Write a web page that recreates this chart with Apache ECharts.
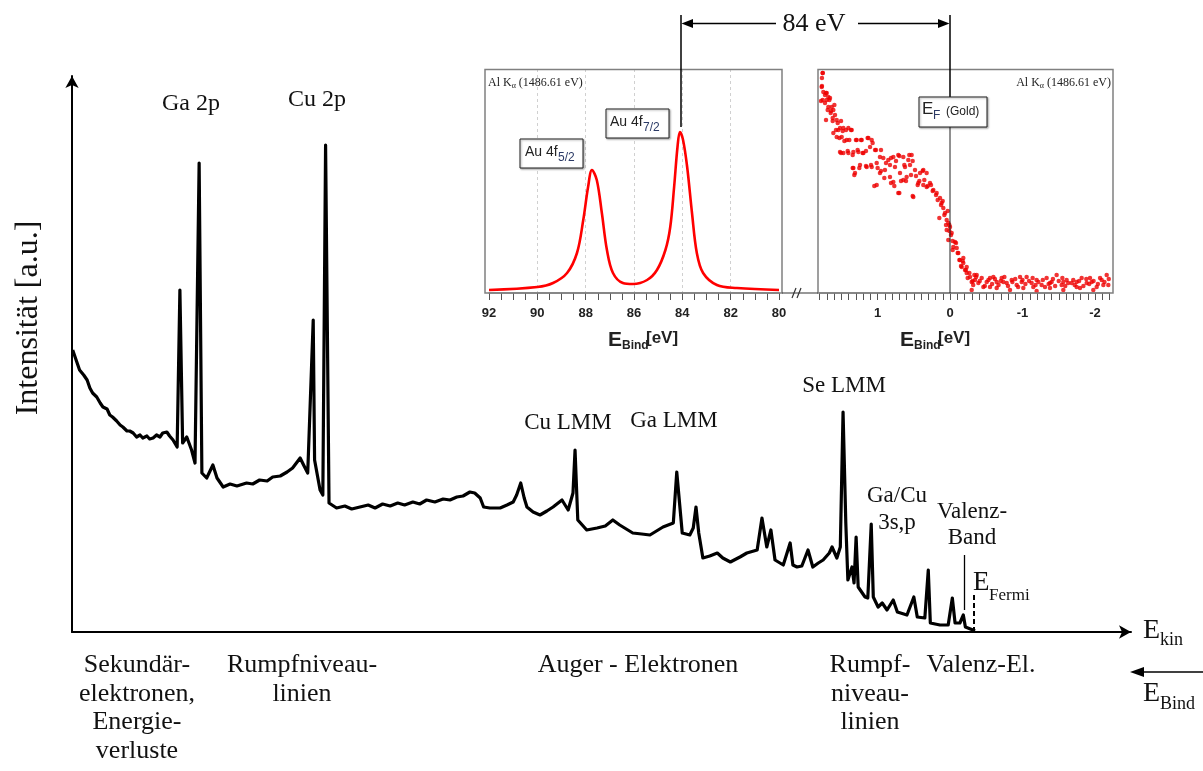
<!DOCTYPE html>
<html><head><meta charset="utf-8">
<script src="https://cdn.jsdelivr.net/npm/echarts@6/dist/echarts.min.js"></script>
<style>html,body{margin:0;padding:0;background:#fff}#c{width:1203px;height:771px}</style>
</head><body><div id="c"></div>
<script>
// ---- Survey spectrum (kinetic energy in eV, intensity in a.u.) ----
const surveyEkin = [187,192,197,203,208,212,216,222,227,231,237,241,245,251,256,260,266,270,275,280,285,289,295,299,304,309,314,318,324,328,333,339,343,347,353,360,365,371,375,382,391,397,406,416,426,440,449,459,470,478,489,499,507,518,523,529,537,539,547,551,555,560,571,583,593,605,617,627,638,649,660,670,682,692,702,714,726,736,746,755,765,772,780,785,794,809,819,828,833,839,844,848,857,867,877,886,899,908,915,918,922,935,950,962,973,983,1002,1015,1027,1046,1061,1066,1074,1085,1090,1094,1098,1104,1114,1125,1133,1144,1158,1168,1183,1190,1197,1203,1209,1221,1231,1235,1241,1248,1257,1264,1272,1279,1288,1292,1299,1304,1308,1312,1315,1321,1324,1327,1330,1340,1344,1349,1352,1359,1365,1372,1381,1387,1401,1411,1416,1427,1432,1435,1449,1461,1467,1471,1478,1483,1486,1497,1500];
const surveyIntensity = [282,272,262,257,252,244,239,235,229,225,223,217,215,211,207,205,201,201,199,195,197,194,196,193,194,197,195,199,200,196,192,185,342,189,195,182,169,469,159,154,167,154,145,148,146,149,148,152,151,155,156,160,164,174,167,159,312,172,142,137,487,129,124,126,123,125,127,124,128,126,129,127,130,128,132,130,133,132,135,136,140,139,134,125,124,124,127,130,137,149,134,125,120,117,121,125,132,122,139,182,112,102,104,106,112,107,99,98,97,105,109,160,99,97,104,125,99,74,76,79,74,70,75,79,82,114,85,102,72,67,89,67,65,66,82,65,69,72,79,85,74,85,220,109,52,65,49,95,45,35,34,108,35,25,29,22,32,20,17,35,15,14,62,9,7,7,34,9,9,17,5,2,1];
const fermiEdgeEkin = 1498;
const valenceBandEkin = 1484;

// ---- Inset 1: Au 4f (binding energy eV, a.u.) ----
const au4fBinding = [92.0,90.0,89.35,88.77,88.36,88.1,87.9,87.74,87.54,87.33,87.12,86.87,86.46,86.04,85.46,85.05,84.7,84.5,84.34,84.2,84.1,83.97,83.8,83.6,83.4,83.14,82.57,81.74,80.0];
const au4fIntensity = [3,6,10,20,40,73,106,123,113,80,43,20,10,9,13,23,43,66,106,146,161,153,126,80,40,20,8,5,3];
const au4fTickLabels = [92,90,88,86,84,82,80];

// ---- Inset 2: Fermi edge of gold (binding energy eV, a.u.) ----
const fermiBinding = [1.756,1.766,1.770,1.747,1.724,1.701,1.756,1.701,1.678,1.655,1.724,1.678,1.632,1.609,1.646,1.586,1.618,1.563,1.517,1.540,1.471,1.402,1.609,1.563,1.494,1.425,1.356,1.287,1.218,1.126,1.080,1.517,1.471,1.402,1.333,1.264,1.195,1.103,1.034,0.966,1.333,1.310,1.241,1.149,1.080,1.011,0.920,0.851,0.782,0.713,0.644,0.575,0.529,0.966,0.897,0.828,0.759,0.690,0.621,0.552,0.483,0.414,0.368,0.322,1.011,0.828,0.782,0.713,0.644,0.598,0.506,0.437,0.368,0.322,0.276,0.230,0.184,0.138,0.115,0.092,0.069,0.046,0.023,0,0.046,-0.023,0.023,-0.046,-0.069,-0.115,-0.138,-0.184,-0.161,-0.207,-0.230,-0.276,-0.299,-0.345,-0.391,-0.437,-0.506,-0.552,-0.598,-0.644,-0.713,-0.782,-0.851,-0.920,-0.989,-1.057,-1.126,-1.195,-1.264,-1.333,-1.402,-1.471,-1.540,-1.609,-1.678,-1.747,-1.816,-1.885,-1.954,-2.023,-2.092,-2.161,-2.207,-0.299,-0.460,-0.644,-0.828,-1.011,-1.195,-1.379,-1.563,-1.793,-1.977,-2.184,-0.092,-0.184,-0.230,-0.368,-0.552,-0.736,-0.966,-1.149,-1.379,-1.563,-1.747,-1.931,-2.115,
  1.756,1.766,1.779,1.710,1.664,1.595,1.687,1.641,1.710,1.618,1.549,1.503,1.572,1.480,1.434,1.366,1.526,1.457,1.389,1.297,1.228,1.136,1.067,1.503,1.411,1.342,1.274,1.205,1.159,1.021,0.952,1.342,1.320,1.251,1.159,1.090,0.998,0.952,0.883,0.814,0.745,0.699,0.630,0.561,0.515,1.044,0.906,0.814,0.768,0.699,0.676,0.607,0.538,0.469,0.423,0.377,0.446,0.515,0.354,0.308,0.262,0.239,0.193,0.170,0.124,0.101,0.147,0.078,0.032,0.009,0.055,0.009,-0.014,-0.037,-0.083,-0.037,-0.106,-0.129,-0.175,-0.152,-0.221,-0.267,-0.244,-0.313,-0.336,
  -0.32,-0.36,-0.41,-0.48,-0.53,-0.58,-0.62,-0.67,-0.70,-0.75,-0.80,-0.86,-0.90,-0.94,-1.00,-1.04,-1.09,-1.14,-1.18,-1.22,-1.28,-1.31,-1.36,-1.42,-1.45,-1.50,-1.55,-1.59,-1.63,-1.70,-1.72,-1.78,-1.84,-1.88,-1.92,-1.98,-2.04,-2.07,-2.13,-2.19,-2.21];
const fermiIntensity = [220,215,206,201,198,200,193,193,196,195,190,186,186,183,180,178,175,173,165,163,165,165,160,156,156,153,163,153,153,155,153,141,140,140,141,141,140,146,143,136,125,120,128,126,126,130,135,133,136,138,136,133,138,120,123,128,126,120,126,128,123,120,123,120,108,116,111,100,113,116,96,110,108,106,110,103,100,95,90,85,80,73,70,66,63,60,53,46,51,40,33,30,26,23,20,16,11,13,10,15,11,6,16,11,15,10,13,8,11,16,10,13,8,15,11,18,8,13,10,11,15,10,11,6,13,18,11,3,6,5,3,5,2,5,3,5,3,8,45,35,26,18,15,11,16,6,10,11,6,15,8,
  220,207,192,200,193,188,183,182,173,172,170,172,163,162,163,163,155,152,153,153,153,155,150,140,142,138,143,140,142,143,143,125,118,125,127,128,125,122,130,135,132,137,128,138,132,107,115,110,107,100,112,112,118,117,112,122,108,97,113,107,108,102,98,93,88,92,75,78,82,68,68,62,58,52,50,43,40,33,32,27,23,20,15,12,18,
  8,16,12,7,13,9,14,8,12,16,7,11,14,6,13,9,12,15,8,11,13,6,9,14,7,12,15,7,10,13,8,12,7,14,9,12,9,15,11,14,17];
const fermiTickLabels = [1,0,-1,-2];

// ---- Text ----
const peakLabels = ['Ga 2p','Cu 2p','Cu LMM','Ga LMM','Se LMM','Ga/Cu\n3s,p','Valenz-\nBand'];
const regionLabels = ['Sekundär-\nelektronen,\nEnergie-\nverluste','Rumpfniveau-\nlinien','Auger - Elektronen','Rumpf-\nniveau-\nlinien','Valenz-El.'];

const SERIF = '"Liberation Serif","Times New Roman",serif';
const SANS = '"Liberation Sans",Arial,sans-serif';

function zip(a,b){return a.map((v,i)=>[v,b[i]]);}

function txt(text,x,y,size,opts){
  opts=opts||{};
  return {type:'text',z:20,rotation:opts.rotation||0,x:opts.rotation?x:0,y:opts.rotation?y:0,
    style:{text:text,x:opts.rotation?0:x,y:opts.rotation?0:y,
      font:(opts.weight||'normal')+' '+size+'px '+(opts.family||SERIF),
      fill:opts.color||'#111',
      align:opts.align||'center',textAlign:opts.align||'center',
      verticalAlign:opts.va||'middle',textVerticalAlign:opts.va||'middle',
      lineHeight:opts.lh||size}};
}
function line(x1,y1,x2,y2,w,color,dash){
  return {type:'line',z:15,shape:{x1,y1,x2,y2},style:{stroke:color||'#000',lineWidth:w||1.5,lineDash:dash||null}};
}
function tri(points){return {type:'polygon',z:16,shape:{points},style:{fill:'#000'}};}
function box(x,y,w,h){
  return {type:'rect',z:18,shape:{x,y,width:w,height:h},style:{fill:'#fff',stroke:'#222',lineWidth:1,shadowBlur:2,shadowOffsetX:1,shadowOffsetY:1,shadowColor:'rgba(0,0,0,0.35)'}};
}

const chart = echarts.init(document.getElementById('c'));
const graphics = [
  {type:'rect',z:5,shape:{x:485,y:69.5,width:297,height:223.5},style:{fill:'none',stroke:'#808080',lineWidth:1.5}},
  {type:'rect',z:5,shape:{x:818,y:69.5,width:295,height:223.5},style:{fill:'none',stroke:'#808080',lineWidth:1.5}},
  line(782,293,818,293,1.2,'#333'),
  line(792,298,796,288,1.2,'#333'),
  line(797,298,801,288,1.2,'#333'),
  line(681,15,681,127,1.5),
  line(950,15,950,97,1.5),
  line(950,127,950,293,1,'#222'),
  line(690,23.5,776,23.5,1.5), tri([[681.5,23.5],[693,19],[693,28]]),
  line(858,23.5,940,23.5,1.5), tri([[949.5,23.5],[938,19],[938,28]]),
  txt('84 eV',814,24,26),
  {type:'text',z:20,style:{text:'{a|Al K}{s|α}{a| (1486.61 eV)}',x:488,y:83,align:'left',textAlign:'left',verticalAlign:'middle',textVerticalAlign:'middle',
    rich:{a:{font:'12px '+SERIF,fill:'#222'},s:{font:'8px '+SERIF,fill:'#222',padding:[5,0,0,0]}}}},
  {type:'text',z:20,style:{text:'{a|Al K}{s|α}{a| (1486.61 eV)}',x:1111,y:83,align:'right',textAlign:'right',verticalAlign:'middle',textVerticalAlign:'middle',
    rich:{a:{font:'12px '+SERIF,fill:'#222'},s:{font:'8px '+SERIF,fill:'#222',padding:[5,0,0,0]}}}},
  box(520,139,63,29), txt('Au 4f',525,152,14,{family:SANS,align:'left',color:'#222'}), txt('5/2',558,158,12,{family:SANS,align:'left',color:'#2b3a66'}),
  box(606,109,63,29), txt('Au 4f',610,122,14,{family:SANS,align:'left',color:'#222'}), txt('7/2',643,128,12,{family:SANS,align:'left',color:'#2b3a66'}),
  box(919,97,68,30), txt('E',922,109,17,{family:SANS,align:'left',color:'#222'}), txt('F',933,116,12,{family:SANS,align:'left',color:'#2b3a66'}), txt('(Gold)',946,112,12,{family:SANS,align:'left',color:'#222'}),
  txt('E',608,340,21,{family:SANS,align:'left',weight:'bold',color:'#222'}), txt('Bind',622,346,12,{family:SANS,align:'left',weight:'bold',color:'#222'}), txt('[eV]',646,338,17,{family:SANS,align:'left',weight:'bold',color:'#222'}),
  txt('E',900,340,21,{family:SANS,align:'left',weight:'bold',color:'#222'}), txt('Bind',914,346,12,{family:SANS,align:'left',weight:'bold',color:'#222'}), txt('[eV]',938,338,17,{family:SANS,align:'left',weight:'bold',color:'#222'}),
  txt(peakLabels[0],191,104,24), txt(peakLabels[1],317,100,24),
  txt(peakLabels[2],568,423,23), txt(peakLabels[3],674,421,23),
  txt(peakLabels[4],844,386,23),
  txt(peakLabels[5],897,509,23,{lh:27}),
  txt(peakLabels[6],972,525,23,{lh:26}),
  txt('E',973,583,27,{align:'left'}), txt('Fermi',989,596,17,{align:'left'}),
  txt('E',1143,631,28,{align:'left'}), txt('kin',1160,640,18,{align:'left'}),
  line(1140,672,1203,672,1.5), tri([[1130,672],[1144,667],[1144,677]]),
  txt('E',1143,694,28,{align:'left'}), txt('Bind',1160,704,18,{align:'left'}),
  txt(regionLabels[0],137,651,26,{va:'top',lh:28.5}),
  txt(regionLabels[1],302,651,26,{va:'top',lh:28.5}),
  txt(regionLabels[2],638,651,26,{va:'top',lh:28.5}),
  txt(regionLabels[3],870,651,26,{va:'top',lh:28.5}),
  txt(regionLabels[4],981,651,26,{va:'top',lh:28.5}),
  txt('Intensität [a.u.]',29,318,32,{rotation:Math.PI/2})
];

const option = {
  backgroundColor:'#fff',
  animation:false,
  grid:[
    {left:72,top:76,width:1059,height:556,containLabel:false,outerBoundsMode:'none'},
    {left:489,top:69,width:290,height:224,containLabel:false,outerBoundsMode:'none'},
    {left:819.5,top:69,width:290,height:224,containLabel:false,outerBoundsMode:'none'}
  ],
  xAxis:[
    {gridIndex:0,type:'value',min:186,max:1727,
      axisLine:{show:true,symbol:['none','arrow'],symbolSize:[10,12],lineStyle:{color:'#000',width:2}},
      axisTick:{show:false},axisLabel:{show:false},splitLine:{show:false}},
    {gridIndex:1,type:'value',min:80,max:92,interval:2,inverse:true,
      axisLine:{show:true,onZero:false,lineStyle:{color:'#808080',width:1.5}},
      axisTick:{show:true,length:7,lineStyle:{color:'#555'}},
      minorTick:{show:true,splitNumber:4,length:7,lineStyle:{color:'#555'}},
      axisLabel:{show:true,margin:14,fontFamily:SANS,fontWeight:'bold',fontSize:13,color:'#222',
        formatter:v=>au4fTickLabels.includes(Math.round(v))?String(Math.round(v)):''},
      splitLine:{show:true,showMinLine:false,showMaxLine:false,lineStyle:{color:'#d0d0d0',type:[3,3],width:1}}},
    {gridIndex:2,type:'value',min:-2.2,max:1.8,interval:0.1,inverse:true,
      axisLine:{show:true,onZero:false,lineStyle:{color:'#808080',width:1.5}},
      axisTick:{show:true,length:7,interval:0,lineStyle:{color:'#555'}},
      axisLabel:{show:true,interval:0,margin:14,fontFamily:SANS,fontWeight:'bold',fontSize:13,color:'#222',
        formatter:v=>{const r=Math.round(v);return (Math.abs(v-r)<1e-6&&fermiTickLabels.includes(r))?String(r):'';}},
      splitLine:{show:false}}
  ],
  yAxis:[
    {gridIndex:0,type:'value',min:0,max:556,
      axisLine:{show:true,symbol:['none','arrow'],symbolSize:[10,12],lineStyle:{color:'#000',width:2}},
      axisTick:{show:false},axisLabel:{show:false},splitLine:{show:false}},
    {gridIndex:1,type:'value',min:0,max:224,show:false},
    {gridIndex:2,type:'value',min:0,max:224,show:false}
  ],
  series:[
    {type:'line',xAxisIndex:0,yAxisIndex:0,data:zip(surveyEkin,surveyIntensity),showSymbol:false,
      lineStyle:{color:'#000',width:3.2,join:'round'},z:3,
      markLine:{silent:true,symbol:['none','none'],label:{show:false},
        data:[
          [{coord:[valenceBandEkin,22],lineStyle:{type:'solid',width:1.3,color:'#000'}},{coord:[valenceBandEkin,77]}],
          [{coord:[fermiEdgeEkin,0],lineStyle:{type:[5,3],width:2,color:'#000'}},{coord:[fermiEdgeEkin,39]}]
        ]}},
    {type:'line',xAxisIndex:1,yAxisIndex:1,data:zip(au4fBinding,au4fIntensity),showSymbol:false,smooth:0.35,
      lineStyle:{color:'#ff0000',width:2.6},z:4},
    {type:'scatter',xAxisIndex:2,yAxisIndex:2,data:zip(fermiBinding,fermiIntensity),symbolSize:4.5,
      itemStyle:{color:'#ee0000'},z:4}
  ],
  graphic:{elements:graphics}
};
chart.setOption(option);
</script></body></html>
